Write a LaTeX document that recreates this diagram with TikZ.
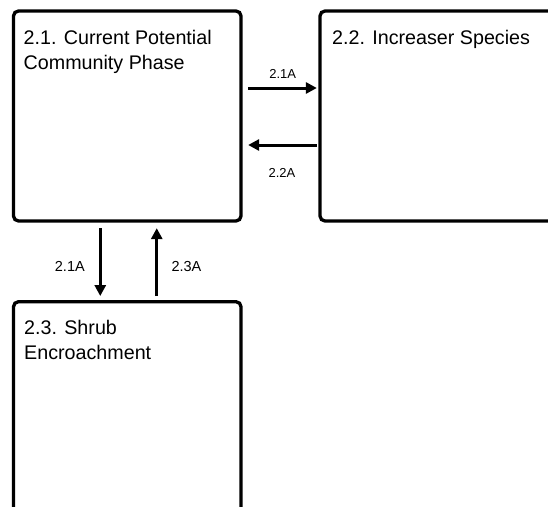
\documentclass[tikz,border=0pt]{standalone}
\usepackage{fontspec}
\setmainfont{Liberation Sans}
\usetikzlibrary{arrows.meta,positioning}
\tikzstyle{phase}=[draw,line width=3.3pt,rounded corners=5pt,inner sep=0pt]
\tikzstyle{title}=[anchor=north west,inner sep=0pt,align=left,font=\fontsize{19.7}{25.5}\selectfont]
\tikzstyle{trans}=[draw,line width=3pt,-{Triangle[length=11pt,width=11pt]}]
\tikzstyle{code}=[inner sep=0pt,font=\fontsize{13}{15}\selectfont]

\begin{document}
\begin{tikzpicture}[x=1pt,y=-1pt]
    \useasboundingbox (0,0) rectangle (548,506);
    % Draw the community phases
    % boxes first, the ones on the right and at the bottom run off the page
    \foreach \pos/\name/\w/\h in {{(127.25,116)/p21/227.5pt/210pt}, {(445,116)/p22/250pt/210pt}, {(127.25,420.85)/p23/227.5pt/238.3pt}}
        \node[phase,minimum width=\w,minimum height=\h] (\name) at \pos {};

    % then the phase names
    \node[title] (t21) at (23.5,30) {2.1. Current Potential\\Community Phase};
    \node[title] (t22) at (332,30) {2.2. Increaser Species};
    \node[title] (t23) at (24,320) {2.3. Shrub\\Encroachment};

    % Transitions between phases
    \path[trans,shorten <=5.5pt,shorten >=1.5pt] ([yshift=28pt]p21.east) -- ([yshift=28pt]p22.west)
        node[code,above=8pt,pos=0.53] (l21a) {2.1A};
    \path[trans,shorten <=1.5pt,shorten >=5.5pt] ([yshift=-29pt]p22.west) -- ([yshift=-29pt]p21.east)
        node[code,below=21.5pt,pos=0.48] (l22a) {2.2A};
    \path[trans,shorten <=5.5pt,shorten >=4pt] ([xshift=-27pt]p21.south) -- ([xshift=-27pt]p23.north)
        node[code,left=14pt,pos=0.57,font=\fontsize{14.5}{16}\selectfont] (l21b) {2.1A};
    \path[trans,shorten <=4pt,shorten >=5.5pt] ([xshift=29.5pt]p23.north) -- ([xshift=29.5pt]p21.south)
        node[code,right=13.3pt,pos=0.43,font=\fontsize{14.5}{16}\selectfont] (l23a) {2.3A};
\end{tikzpicture}
\end{document}
